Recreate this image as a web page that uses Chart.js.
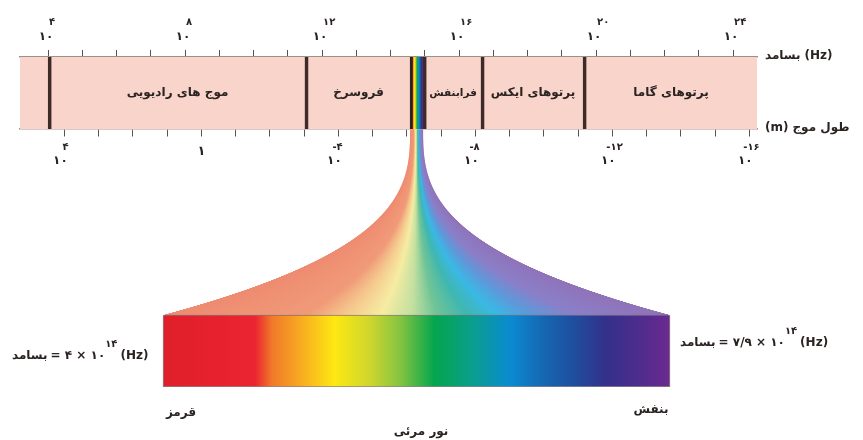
<!DOCTYPE html>
<html>
<head>
<meta charset="utf-8">
<script src="https://cdn.jsdelivr.net/npm/chart.js@4.4.1/dist/chart.umd.min.js"></script>
<style>
  html, body { margin: 0; padding: 0; background: #fff; }
</style>
</head>
<body>
<canvas id="spectrum" width="863" height="440"></canvas>
<script>
// frequency axis: log10 of frequency in Hz
var freqMin = 3.18, freqMax = 24.7;
var freqLabels = [4, 8, 12, 16, 20, 24];
// wavelength axis: log10 of wavelength in m (lambda = c / f)
var logC = 8.477;
var waveLabels = [4, 0, -4, -8, -12, -16];

var bandNames = ['موج های رادیویی', 'فروسرخ', 'فرابنفش', 'پرتوهای ایکس', 'پرتوهای گاما'];
var bandStart = [4, 11.5, 14.95, 16.64, 19.62];
var bandEnd = [11.5, 14.57, 16.64, 19.62, 24.7];
var visibleBand = [14.57, 14.95];

// visible light, frequency in 10^14 Hz
var visFreq = [4, 7.9];
var visStops = [4.0, 4.71, 4.84, 5.05, 5.32, 5.59, 5.82, 6.09, 6.36, 6.67, 6.94, 7.17, 7.40, 7.67, 7.9];
var visColors = ['#de1f2a', '#ec2431', '#f07a2a', '#f8a822', '#fde811', '#cfd62e', '#86c440', '#03a54e',
                 '#0a9f88', '#0a8bd2', '#1765b0', '#1f4d9d', '#33318a', '#4f2c8d', '#6b2a90'];
// pale colours of the fan, across its width
var fanStops = [0, 0.28, 0.36, 0.43, 0.49, 0.54, 0.6, 0.66, 0.73, 0.82, 1];
var fanColors = ['#ee8a70', '#f09a78', '#f5c98e', '#f6eca2', '#c4e0a0', '#70c496', '#3fb7b0',
                 '#3ab8e4', '#5e98da', '#8a7fc8', '#9072b8'];

var rowLevel = [294, 36];   // top strip, bottom strip
var FONT = '"DejaVu Sans", sans-serif';
var INK = '#2b2321';

function visGradient(chart, axisId, a, b) {
  if (!chart.chartArea) return '#e33';
  var sc = chart.scales[axisId];
  var p0 = sc.getPixelForValue(a), p1 = sc.getPixelForValue(b);
  var g = chart.ctx.createLinearGradient(p0, 0, p1, 0);
  for (var i = 0; i < visStops.length; i++) {
    g.addColorStop((visStops[i] - visFreq[0]) / (visFreq[1] - visFreq[0]), visColors[i]);
  }
  return g;
}

function toFa(n) {
  return String(n).replace(/[0-9]/g, function (d) { return '۰۱۲۳۴۵۶۷۸۹'[d]; });
}

function power(ctx, cx, cy, base, exp, ey, ex) {
  ctx.textBaseline = 'middle';
  ctx.font = 'bold 12px ' + FONT;
  ctx.textAlign = 'center';
  ctx.fillText(base, cx, cy);
  if (exp) {
    ctx.font = 'bold 10px ' + FONT;
    ctx.textAlign = 'left';
    ctx.fillText(exp, cx + ex, ey);
  }
}

// draw pieces left to right so the mixed text keeps its order
function row(ctx, x, y, parts) {
  ctx.textBaseline = 'middle';
  ctx.textAlign = 'left';
  parts.forEach(function (p) {
    ctx.font = (p.sup ? 'bold 10px ' : 'bold 12px ') + FONT;
    ctx.fillText(p.t, x, p.sup ? y - 12 : y);
    x += ctx.measureText(p.t).width + (p.gap || 0);
  });
}

var fanPlugin = {
  id: 'fan',
  beforeDatasetsDraw: function (chart) {
    var ctx = chart.ctx;
    var topEl = chart.getDatasetMeta(2).data[0];
    var botEl = chart.getDatasetMeta(3).data[0];
    var tL = Math.min(topEl.base, topEl.x), tR = Math.max(topEl.base, topEl.x);
    var bL = Math.min(botEl.base, botEl.x), bR = Math.max(botEl.base, botEl.x);
    var yT = topEl.y + topEl.height / 2, yB = botEl.y - botEl.height / 2;
    ctx.save();
    for (var py = yT; py < yB; py++) {
      var u = (py + 0.5 - yT) / (yB - yT);
      var g = Math.pow(u, 2.8);
      var xl = tL + (bL - tL) * g, xr = tR + (bR - tR) * g;
      var gr = ctx.createLinearGradient(xl, 0, xr, 0);
      for (var i = 0; i < fanStops.length; i++) gr.addColorStop(fanStops[i], fanColors[i]);
      ctx.fillStyle = gr;
      ctx.fillRect(xl, py, xr - xl, 1.5);
    }
    ctx.restore();
  },
  afterDraw: function (chart) {
    var ctx = chart.ctx;
    var x = chart.scales.x, xw = chart.scales.xw;
    ctx.save();
    ctx.fillStyle = INK;
    // band names, shrunk if a band is too narrow
    var bands = chart.getDatasetMeta(1).data;
    ctx.textAlign = 'center';
    ctx.textBaseline = 'middle';
    bands.forEach(function (el, i) {
      var w = Math.abs(el.x - el.base) - 10;
      var size = 12;
      ctx.font = 'bold ' + size + 'px ' + FONT;
      while (ctx.measureText(bandNames[i]).width > w && size > 9) {
        size -= 0.5;
        ctx.font = 'bold ' + size + 'px ' + FONT;
      }
      ctx.fillText(bandNames[i], (el.x + el.base) / 2 + 1, el.y);
    });
    // frequency labels
    freqLabels.forEach(function (v) {
      power(ctx, x.getPixelForValue(v) - 2, 37, '۱۰', toFa(v), 22, 3);
    });
    // wavelength labels
    waveLabels.forEach(function (v) {
      var px = xw.getPixelForValue(v);
      if (v === 0) {
        ctx.font = 'bold 13px ' + FONT;
        ctx.textAlign = 'center';
        ctx.fillText('۱', px, 152);
        return;
      }
      power(ctx, px - 4, 161, '۱۰', (v < 0 ? '-' : '') + toFa(Math.abs(v)), 147, v < 0 ? -2 : 2);
    });
    // axis names
    row(ctx, 765, 56, [{t: 'بسامد', gap: 4}, {t: '(Hz)'}]);
    row(ctx, 765, 128, [{t: '(m)', gap: 4}, {t: 'طول موج'}]);
    // visible range ends
    row(ctx, 12, 356, [{t: 'بسامد', gap: 3}, {t: '= ۴ × ۱۰'}, {t: '۱۴', sup: true, gap: 3}, {t: '(Hz)'}]);
    row(ctx, 680, 343, [{t: 'بسامد', gap: 3}, {t: '= ۷/۹ × ۱۰'}, {t: '۱۴', sup: true, gap: 3}, {t: '(Hz)'}]);
    ctx.font = 'bold 12px ' + FONT;
    ctx.textAlign = 'center';
    ctx.fillText('قرمز', 181, 413);
    ctx.fillText('بنفش', 651, 410);
    ctx.fillText('نور مرئی', 421, 432);
    ctx.restore();
  }
};

function bandData() {
  return bandStart.map(function (s, i) { return {x: [s, bandEnd[i]], y: rowLevel[0]}; });
}

function tickLabel(v) { return Number.isInteger(v) ? '' : null; }

new Chart(document.getElementById('spectrum'), {
  type: 'bar',
  data: {
    datasets: [
      {
        label: 'طیف',
        order: 10,
        data: [{x: [freqMin, freqMax], y: rowLevel[0]}],
        backgroundColor: '#f8d4cb',
        borderWidth: 0
      },
      {
        label: 'نوارها',
        order: 1,
        data: bandData(),
        backgroundColor: 'rgba(0,0,0,0)',
        borderColor: '#3d2b28',
        borderWidth: {left: 3, right: 0, top: 0, bottom: 0},
        borderSkipped: false
      },
      {
        label: 'نور مرئی در طیف',
        order: 5,
        data: [{x: visibleBand, y: rowLevel[0]}],
        backgroundColor: function (c) { return visGradient(c.chart, 'x', visibleBand[0], visibleBand[1]); },
        borderColor: '#2a2020',
        borderWidth: {left: 3, right: 0, top: 0, bottom: 0},
        borderSkipped: false
      },
      {
        label: 'نور مرئی',
        order: 1,
        xAxisID: 'x2',
        data: [{x: visFreq, y: rowLevel[1]}],
        backgroundColor: function (c) { return visGradient(c.chart, 'x2', visFreq[0], visFreq[1]); },
        borderColor: 'rgba(70,50,60,0.6)',
        borderWidth: 1,
        borderSkipped: false
      }
    ]
  },
  options: {
    indexAxis: 'y',
    responsive: false,
    animation: false,
    datasets: { bar: { grouped: false, barThickness: 72 } },
    layout: { padding: {left: 20, right: 106, top: 0, bottom: 53} },
    plugins: { legend: { display: false }, tooltip: { enabled: false } },
    scales: {
      x: {
        type: 'linear',
        position: 'top',
        min: freqMin,
        max: freqMax,
        afterFit: function (s) { s.height = 57; },
        grid: { drawOnChartArea: false, tickLength: 7, color: '#5a5250' },
        border: { color: '#9c8e8b', width: 1.5 },
        ticks: { stepSize: 1, autoSkip: false, maxRotation: 0, font: {size: 1}, callback: tickLabel }
      },
      xw: {
        type: 'linear',
        position: {y: 258},
        reverse: true,
        min: logC - freqMax,
        max: logC - freqMin,
        grid: { drawOnChartArea: false, tickLength: 7, color: '#5a5250' },
        border: { color: '#9c8e8b', width: 1.5 },
        ticks: { stepSize: 1, autoSkip: false, maxRotation: 0, font: {size: 1}, callback: tickLabel }
      },
      x2: { type: 'linear', display: false, min: 2.9, max: 8.569 },
      y: { type: 'linear', display: false, offset: false, min: 0, max: 330 }
    }
  },
  plugins: [fanPlugin]
});
</script>
</body>
</html>
